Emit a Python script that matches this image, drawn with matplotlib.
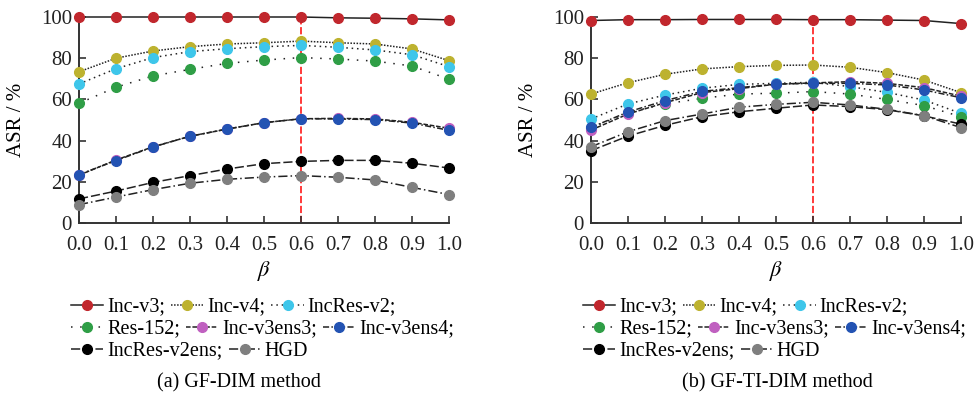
import matplotlib.pyplot as plt
import numpy as np

plt.rcParams['font.family'] = ['Liberation Serif', 'DejaVu Serif']
plt.rcParams['mathtext.fontset'] = 'stix'

beta = [0.0, 0.1, 0.2, 0.3, 0.4, 0.5, 0.6, 0.7, 0.8, 0.9, 1.0]
names = ['Inc-v3', 'Inc-v4', 'IncRes-v2', 'Res-152', 'Inc-v3ens3',
         'Inc-v3ens4', 'IncRes-v2ens', 'HGD']
best_beta = 0.6

# (a) GF-DIM
dim_v3 = [100, 100, 100, 100, 100, 100, 100, 99.6, 99.4, 99.1, 98.6]
dim_v4 = [73.4, 80.0, 83.5, 85.6, 86.9, 87.5, 88.3, 87.5, 86.9, 84.5, 78.8]
dim_incres = [67.5, 74.9, 80.3, 83.2, 84.6, 85.6, 86.2, 85.3, 84.0, 81.7, 75.9]
dim_res152 = [58.1, 65.9, 71.4, 74.6, 77.5, 79.1, 80.3, 79.6, 78.6, 76.2, 69.8]
dim_ens3 = [23.2, 30.6, 37.0, 42.1, 45.6, 48.7, 50.6, 50.8, 50.5, 48.9, 46.0]
dim_ens4 = [23.5, 30.3, 36.9, 42.1, 45.6, 48.7, 50.6, 50.5, 50.2, 48.5, 45.0]
dim_v2ens = [11.7, 15.5, 19.7, 23.0, 26.2, 28.8, 29.9, 30.4, 30.4, 29.0, 26.7]
dim_hgd = [8.9, 12.6, 16.2, 19.3, 21.2, 22.3, 23.0, 22.2, 20.9, 17.3, 13.8]

# (b) GF-TI-DIM
ti_v3 = [98.3, 98.7, 98.7, 98.8, 98.8, 98.8, 98.7, 98.7, 98.5, 98.3, 96.8]
ti_v4 = [62.6, 68.1, 72.2, 74.8, 75.9, 76.5, 76.7, 75.6, 73.0, 69.4, 63.3]
ti_incres = [50.5, 57.8, 62.1, 65.4, 67.3, 67.8, 68.3, 66.2, 63.4, 59.7, 53.2]
ti_res152 = [46.2, 53.6, 57.8, 60.5, 62.6, 63.0, 63.8, 62.6, 60.0, 57.0, 51.6]
ti_ens3 = [45.1, 52.9, 58.4, 63.3, 65.2, 67.4, 68.0, 68.6, 67.8, 65.7, 61.6]
ti_ens4 = [46.4, 53.9, 59.4, 63.9, 65.7, 67.4, 67.8, 67.8, 67.0, 64.6, 60.8]
ti_v2ens = [35.1, 42.2, 47.4, 51.6, 54.0, 55.7, 57.3, 56.5, 55.0, 52.0, 48.0]
ti_hgd = [37.0, 44.3, 49.7, 52.9, 56.2, 57.6, 58.6, 57.3, 55.2, 52.1, 46.3]

colors = ['#C1272D', '#BDB22F', '#3EC6EA', '#2F9E46', '#C060C0',
          '#2353B3', '#000000', '#7F7F7F']
styles = ['-', (0, (1, 1)), (0, (1, 2.5)), (0, (1, 5)), (0, (3, 1.2)),
          (0, (4, 1.5, 1, 1.5)), (0, (6, 2)), (0, (6, 2, 1, 2))]

panels = [
    ([dim_v3, dim_v4, dim_incres, dim_res152, dim_ens3, dim_ens4, dim_v2ens, dim_hgd],
     '(a) GF-DIM method', 79, 100, 239),
    ([ti_v3, ti_v4, ti_incres, ti_res152, ti_ens3, ti_ens4, ti_v2ens, ti_hgd],
     '(b) GF-TI-DIM method', 591, 98.7, 777),
]

W, H = 978, 395
fig = plt.figure(figsize=(W / 100, H / 100), dpi=100)

for series, caption, x0, vtop, capx in panels:
    ax = fig.add_axes([x0 / W, 1 - 223 / H, 370 / W, 206 / H])
    ax.vlines(best_beta, 0, vtop, colors='#FF2A2A', linestyles=(0, (4, 1.5)),
              lw=1.3, zorder=1)
    lines = []
    for ys, c, ls, nm in zip(series, colors, styles, names):
        ln, = ax.plot(beta, ys, color='#222222', ls=ls, lw=1.1, marker='o',
                      ms=7, mfc=c, mec=c, label=nm, clip_on=False, zorder=3)
        lines.append(ln)
    ax.set_xlim(0, 1)
    ax.set_ylim(0, 100)
    ax.set_xticks(np.arange(0, 1.01, 0.1))
    ax.set_xticklabels([f'{t:.1f}' for t in np.arange(0, 1.01, 0.1)])
    ax.set_yticks([0, 20, 40, 60, 80, 100])
    for s in ['top', 'right']:
        ax.spines[s].set_visible(False)
    for s in ['left', 'bottom']:
        ax.spines[s].set_linewidth(1.4)
        ax.spines[s].set_color('#333333')
    ax.tick_params(direction='in', length=5, width=1.2, labelsize=15,
                   colors='#333333', labelcolor='#222222')
    ax.tick_params(axis='x', pad=9)
    ax.tick_params(axis='y', pad=5)
    ax.set_ylabel('ASR / %', fontsize=15, labelpad=11)
    fig.text((x0 + 185) / W, 1 - 271 / H, r'$\beta$', fontsize=16,
             ha='center', va='center')

    rows = [(lines[0:3], 307), (lines[3:6], 329), (lines[6:8], 351)]
    for hs, ry in rows:
        lab = [h.get_label() + (';' if h is not lines[-1] else '') for h in hs]
        lg = fig.legend(hs, lab, loc='center left',
                        bbox_to_anchor=((x0 - 8) / W, 1 - ry / H),
                        ncol=len(hs), frameon=False, fontsize=14.5,
                        handlelength=1.6, handletextpad=0.2,
                        columnspacing=0.3, borderpad=0, borderaxespad=0)
    fig.text(capx / W, 1 - 383 / H, caption, fontsize=14.5,
             ha='center', va='center')

fig.savefig('out.png', dpi=100)
